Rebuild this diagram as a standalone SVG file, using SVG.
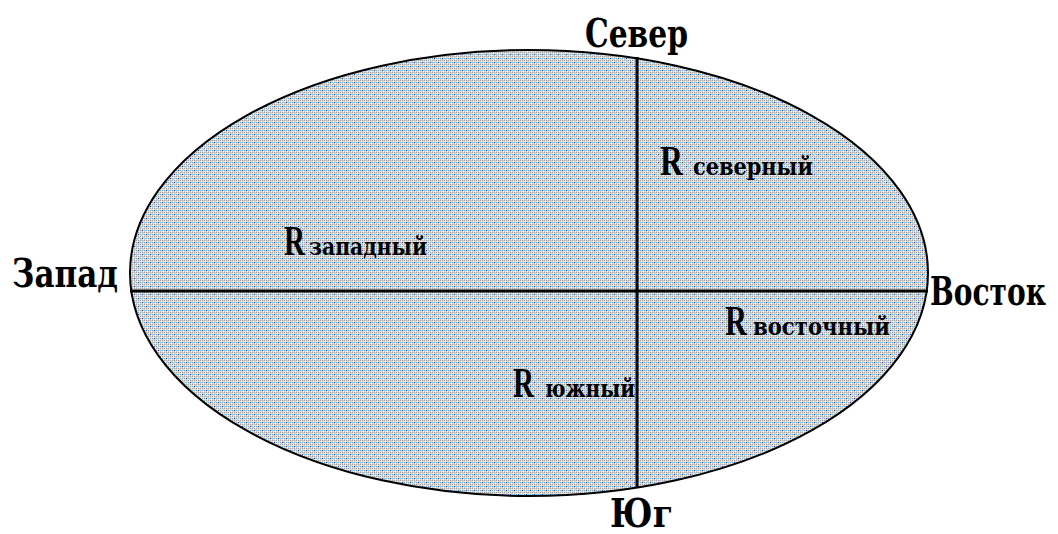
<svg xmlns="http://www.w3.org/2000/svg" width="1058" height="534" viewBox="0 0 1058 534">
  <defs>
    <pattern id="dots" x="0" y="0" width="8" height="8" patternUnits="userSpaceOnUse">
      <rect width="8" height="8" fill="#d8d8d8"/>
      <rect x="0" y="0" width="1" height="1" fill="#a8a8a8"/>
      <rect x="2" y="0" width="1" height="1" fill="#a8a8a8"/>
      <rect x="4" y="0" width="1" height="1" fill="#a8a8a8"/>
      <rect x="6" y="0" width="1" height="1" fill="#a8a8a8"/>
      <rect x="1" y="1" width="1" height="1" fill="#ffffff"/>
      <rect x="5" y="1" width="1" height="1" fill="#ffffff"/>
      <rect x="0" y="2" width="1" height="1" fill="#a8a8a8"/>
      <rect x="2" y="2" width="1" height="1" fill="#2222ee"/>
      <rect x="4" y="2" width="1" height="1" fill="#a8a8a8"/>
      <rect x="6" y="2" width="1" height="1" fill="#33e6e6"/>
      <rect x="3" y="3" width="1" height="1" fill="#ffffff"/>
      <rect x="7" y="3" width="1" height="1" fill="#ffffff"/>
      <rect x="0" y="4" width="1" height="1" fill="#a8a8a8"/>
      <rect x="2" y="4" width="1" height="1" fill="#a8a8a8"/>
      <rect x="4" y="4" width="1" height="1" fill="#a8a8a8"/>
      <rect x="6" y="4" width="1" height="1" fill="#a8a8a8"/>
      <rect x="1" y="5" width="1" height="1" fill="#ffffff"/>
      <rect x="5" y="5" width="1" height="1" fill="#ffffff"/>
      <rect x="0" y="6" width="1" height="1" fill="#a8a8a8"/>
      <rect x="2" y="6" width="1" height="1" fill="#33e6e6"/>
      <rect x="4" y="6" width="1" height="1" fill="#a8a8a8"/>
      <rect x="6" y="6" width="1" height="1" fill="#2222ee"/>
      <rect x="3" y="7" width="1" height="1" fill="#ffffff"/>
      <rect x="7" y="7" width="1" height="1" fill="#ffffff"/>
    </pattern>
  </defs>
  <style>
    .dir { font-family: "DejaVu Serif", "Liberation Serif", serif; font-weight: bold; font-size: 39px; fill: #000; }
    .r { font-family: "Liberation Serif", "DejaVu Serif", serif; font-weight: bold; font-size: 42px; fill: #000; }
    .sub { font-family: "DejaVu Serif", "Liberation Serif", serif; font-weight: bold; font-size: 25px; fill: #000; }
    .ln { stroke: #000; stroke-width: 3; fill: none; }
  </style>
  <rect width="1058" height="534" fill="#ffffff"/>
  <g id="region">
    <ellipse cx="529" cy="273" rx="399" ry="223" fill="url(#dots)" stroke="#000" stroke-width="2"/>
  </g>
  <g id="connectors">
    <line class="ln" x1="130" y1="291" x2="928" y2="291"/>
    <line class="ln" x1="637" y1="57" x2="637" y2="488"/>
  </g>
  <g id="north"><text class="dir" x="585" y="47" textLength="103" lengthAdjust="spacingAndGlyphs">Север</text></g>
  <g id="west"><text class="dir" x="12" y="287" textLength="106" lengthAdjust="spacingAndGlyphs">Запад</text></g>
  <g id="east"><text class="dir" x="930" y="305" textLength="116" lengthAdjust="spacingAndGlyphs">Восток</text></g>
  <g id="south"><text class="dir" x="610" y="527" textLength="63" lengthAdjust="spacingAndGlyphs">Юг</text></g>
  <g id="r-north">
    <text class="r" x="660" y="175" textLength="23" lengthAdjust="spacingAndGlyphs">R</text>
    <text class="sub" x="693" y="175" textLength="120" lengthAdjust="spacingAndGlyphs">северный</text>
  </g>
  <g id="r-west">
    <text class="r" x="284" y="255" textLength="21" lengthAdjust="spacingAndGlyphs">R</text>
    <text class="sub" x="309" y="255" textLength="118" lengthAdjust="spacingAndGlyphs">западный</text>
  </g>
  <g id="r-east">
    <text class="r" x="725" y="335" textLength="22" lengthAdjust="spacingAndGlyphs">R</text>
    <text class="sub" x="753" y="335" textLength="137" lengthAdjust="spacingAndGlyphs">восточный</text>
  </g>
  <g id="r-south">
    <text class="r" x="513" y="397" textLength="21" lengthAdjust="spacingAndGlyphs">R</text>
    <text class="sub" x="545" y="397" textLength="90" lengthAdjust="spacingAndGlyphs">южный</text>
  </g>
</svg>
